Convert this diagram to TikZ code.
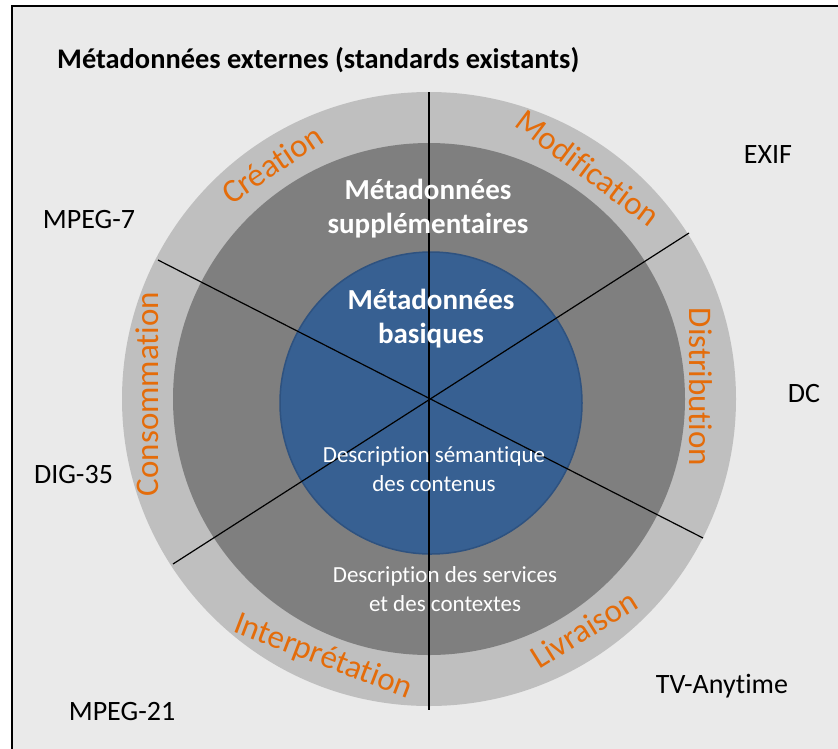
\documentclass[tikz,border=0pt]{standalone}
\usepackage{fontspec}
\setmainfont{Carlito}[Ligatures=NoCommon]
\usepackage{xcolor}
\definecolor{fond}{HTML}{EAEAEA}
\definecolor{anneau}{HTML}{BFBFBF}
\definecolor{gris}{HTML}{7F7F7F}
\definecolor{bleu}{HTML}{376092}
\definecolor{bleubord}{HTML}{2E5280}
\definecolor{phaseorange}{HTML}{E46C0A}

\begin{document}
\begin{tikzpicture}[x=1pt, y=-1pt,
 phase/.style={text=phaseorange, font=\fontsize{33}{36}\selectfont, inner sep=0pt},
 standard/.style={anchor=base, font=\fontsize{28}{32}\selectfont, inner sep=0pt},
 couche/.style={anchor=base, text=white, align=center, inner sep=0pt},
 rayon/.style={line width=1.2pt}]
 \clip (0,0) rectangle (838,748);
 \fill[white] (0,0) rectangle (838,748);
 \draw[line width=2pt, fill=fond] (12,6) rectangle (850,760);

 \coordinate (O) at (429,399);
 \fill[anneau] (O) circle (307pt);
 \fill[gris] (O) circle (256pt);
 \draw[bleubord, line width=1.5pt, fill=bleu] (431,403) circle (151pt);

 \coordinate (N) at (429,92);
 \coordinate (S) at (429,710);
 \coordinate (NO) at (158,260);
 \coordinate (SE) at (703,538);
 \coordinate (NE) at (689,233);
 \coordinate (SO) at (173,564);
 \draw[rayon] (N) -- (S);
 \draw[rayon] (NO) -- (SE);
 \draw[rayon] (NE) -- (SO);

 \node[anchor=base west, inner sep=0pt, font=\bfseries\fontsize{28.4}{32}\selectfont] (titre) at (57,68) {Métadonnées externes (standards existants)};

 \node[couche, font=\bfseries\fontsize{29}{34}\selectfont] (supp) at (428,233) {Métadonnées\\supplémentaires};
 \node[couche, font=\bfseries\fontsize{29}{34}\selectfont] (basiques) at (431,343) {Métadonnées\\basiques};
 \node[couche, font=\fontsize{23}{29}\selectfont] (contenus) at (434,491) {Description sémantique\\des contenus};
 \node[couche, font=\fontsize{23}{29}\selectfont] (services) at (445,611) {Description des services\\et des contextes};

 \node[phase, rotate=34] (creation) at (272,164) {Création};
 \node[phase, rotate=-37] (modif) at (588,168) {Modification};
 \node[phase, rotate=-90] (distrib) at (701,387) {Distribution};
 \node[phase, rotate=90] (conso) at (147,394) {Consommation};
 \node[phase, rotate=-21] (interp) at (323,657) {Interprétation};
 \node[phase, rotate=32] (livraison) at (584,629) {Livraison};

 \node[standard] (exif) at (768,163) {EXIF};
 \node[standard] (mpegsept) at (89,228) {MPEG-7};
 \node[standard] (dc) at (804,402) {DC};
 \node[standard] (dig) at (73.5,483) {DIG-35};
 \node[standard] (mpegvingtun) at (122,720) {MPEG-21};
 \node[standard] (tva) at (722,693) {TV-Anytime};
\end{tikzpicture}
\end{document}
